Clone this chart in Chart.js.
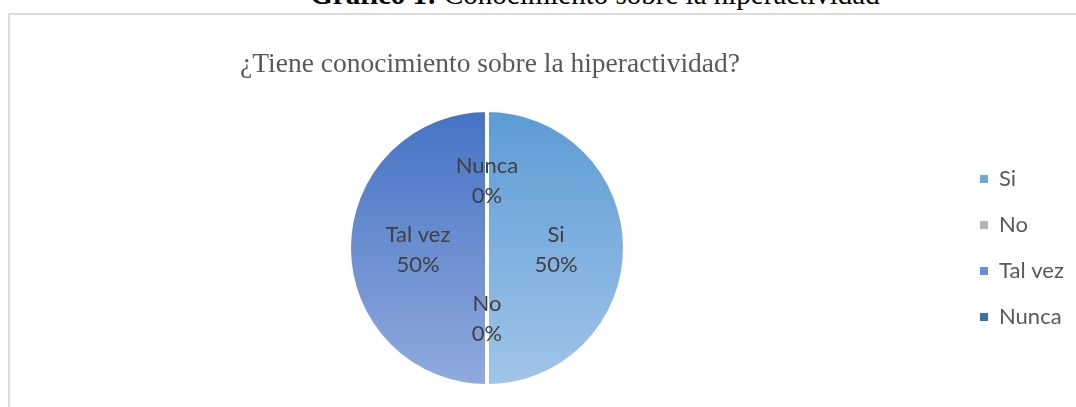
<!DOCTYPE html>
<html lang="es">
<head>
<meta charset="utf-8">
<title>¿Tiene conocimiento sobre la hiperactividad?</title>
<script src="https://cdn.jsdelivr.net/npm/chart.js@4.4.1/dist/chart.umd.min.js"></script>
<style>
  html, body { margin: 0; padding: 0; background: #fff; overflow: hidden; }
  body { width: 1076px; height: 407px; position: relative; }
  .caption {
    position: absolute; left: 0; width: 1190px; top: -20px;
    text-align: center; font: 29px/29px "Liberation Serif", "Times New Roman", serif;
    color: #000; white-space: nowrap;
  }
  .frame {
    position: absolute; left: 8px; top: 13px; width: 1120px; height: 430px;
    border: 2px solid #dcdcdc; box-sizing: border-box;
  }
  #pie { position: absolute; left: 0; top: 0; }
</style>
</head>
<body>
<div class="caption"><b>Gráfico 1:</b> Conocimiento sobre la hiperactividad</div>
<div class="frame"></div>
<canvas id="pie" width="1076" height="407"></canvas>

<script>
/* ── data ─────────────────────────────────────────── */
const chartTitle = '¿Tiene conocimiento sobre la hiperactividad?';
const categories = ['Si', 'No', 'Tal vez', 'Nunca'];
const values     = [50, 0, 50, 0];

/* ── colours (gradient top / bottom, legend swatch) ─ */
const topColors    = ['#5B9BD5', '#A5A5A5', '#4472C4', '#255E91'];
const bottomColors = ['#A2C5E8', '#C9C9C9', '#91ABDD', '#5B86B8'];
const swatchColors = ['#70A8DB', '#B3B3B3', '#6C8DD5', '#3B6FA6'];

const FONT = 'Lato, "Liberation Sans", sans-serif';

function sliceFill(ctx) {
  const area = ctx.chart.chartArea;
  const i = ctx.dataIndex;
  if (!area) return topColors[i];
  const g = ctx.chart.ctx.createLinearGradient(0, area.top, 0, area.bottom);
  g.addColorStop(0, topColors[i]);
  g.addColorStop(1, bottomColors[i]);
  return g;
}

// Title centred over the pie's column (the legend sits on the right)
const pieTitle = {
  id: 'pieTitle',
  afterDraw(chart) {
    const { ctx, chartArea } = chart;
    ctx.save();
    ctx.font = '27.5px "Liberation Serif", "Times New Roman", serif';
    ctx.fillStyle = '#595959';
    ctx.textAlign = 'center';
    ctx.textBaseline = 'alphabetic';
    ctx.fillText(chartTitle, (chartArea.left + chartArea.right) / 2 + 3, 72);
    ctx.restore();
  }
};

// Data labels: category + percentage, halfway out along each slice
const sliceLabels = {
  id: 'sliceLabels',
  afterDatasetsDraw(chart) {
    const { ctx } = chart;
    const data = chart.data.datasets[0].data;
    const total = data.reduce((s, v) => s + v, 0);
    ctx.save();
    ctx.font = '22px ' + FONT;
    ctx.fillStyle = '#404040';
    ctx.textAlign = 'center';
    ctx.textBaseline = 'middle';
    chart.getDatasetMeta(0).data.forEach((arc, i) => {
      const { x, y, startAngle, endAngle, outerRadius } = arc.getProps(['x', 'y', 'startAngle', 'endAngle', 'outerRadius'], true);
      const mid = (startAngle + endAngle) / 2;
      const r = outerRadius * 0.5;
      const cx = x + Math.cos(mid) * r;
      const cy = y + Math.sin(mid) * r;
      const pct = Math.round(data[i] / total * 100) + '%';
      ctx.fillText(chart.data.labels[i], cx, cy - 13);
      ctx.fillText(pct, cx, cy + 17);
    });
    ctx.restore();
  }
};

new Chart(document.getElementById('pie'), {
  type: 'pie',
  data: {
    labels: categories,
    datasets: [{
      data: values,
      backgroundColor: sliceFill,
      borderColor: '#ffffff',
      borderWidth: 4,
    }]
  },
  options: {
    responsive: false,
    animation: false,
    layout: { padding: { left: 18, right: 8, top: 108, bottom: 19 } },
    plugins: {
      title: { display: false },
      legend: {
        position: 'right',
        maxWidth: 112,
        labels: {
          color: '#595959',
          font: { family: FONT, size: 22 },
          boxWidth: 8,
          boxHeight: 8,
          padding: 24,
          generateLabels(chart) {
            const items = Chart.overrides.pie.plugins.legend.labels.generateLabels(chart);
            return items.map((it, i) => Object.assign(it, {
              fillStyle: swatchColors[i], strokeStyle: swatchColors[i], lineWidth: 0
            }));
          }
        }
      },
      tooltip: { enabled: false }
    }
  },
  plugins: [sliceLabels, pieTitle]
});
</script>
</body>
</html>
